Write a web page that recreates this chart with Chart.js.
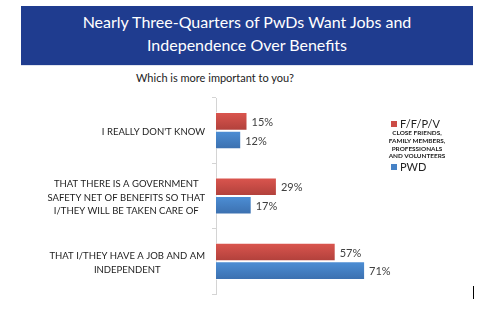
<!DOCTYPE html>
<html>
<head>
<meta charset="utf-8">
<script src="https://cdn.jsdelivr.net/npm/chart.js@4/dist/chart.umd.min.js"></script>
<style>
  body { margin: 0; background: #fff; font-family: Lato, "Open Sans", sans-serif; }
  #page { position: relative; width: 498px; height: 324px; overflow: hidden; }
  #header {
    position: absolute; left: 21px; top: 6px; width: 452px; height: 60px;
    background: #1f3c8f; color: #fff; text-align: center;
    font-size: 16px; line-height: 23px; padding-top: 4px; box-sizing: border-box;
    border-bottom: 1px solid #dfe3ee;
  }
  #question { position: absolute; left: 0; width: 430px; top: 71px; text-align: center; font-size: 11px; color: #222; }
  #chartBox { position: absolute; left: 0; top: 90px; width: 498px; height: 214px; }
  #legend { position: absolute; left: 391px; top: 117px; width: 60px; color: #222; }
  .item { display: flex; align-items: center; font-size: 11px; height: 13px; }
  .swatch { width: 6px; height: 6px; margin-right: 3px; }
  .note { font-size: 6.4px; font-weight: bold; text-align: center; line-height: 7.8px; width: 60px; margin: -1px 0 0 -4px; white-space: pre; }
  #caret { position: absolute; left: 473px; top: 286px; width: 1px; height: 13px; background: #000; }
</style>
</head>
<body>
<div id="page">
  <div id="header">Nearly Three-Quarters of PwDs Want Jobs and<br>Independence Over Benefits</div>
  <div id="question">Which is more important to you?</div>
  <div id="chartBox"><canvas id="answers"></canvas></div>
  <div id="legend"></div>
  <div id="caret"></div>
</div>
<script>
const categories = [
  ["I REALLY DON'T KNOW"],
  ["THAT THERE IS A GOVERNMENT", "SAFETY NET OF BENEFITS SO THAT", "I/THEY WILL BE TAKEN CARE OF"],
  ["THAT I/THEY HAVE A JOB AND AM", "INDEPENDENT"]
];
const seriesNames = ['F/F/P/V', 'PWD'];
const seriesNotes = ['CLOSE FRIENDS,\nFAMILY MEMBERS,\nPROFESSIONALS\nAND VOLUNTEERS', ''];
const ffpvValues = [15, 29, 57];
const pwdValues = [12, 17, 71];

const topColors = ['#dc564f', '#4d8fd6'];
const bottomColors = ['#b0403b', '#3b6fae'];
const flatColors = ['#cc4c46', '#4682c6'];

// vertical shading per bar, worked out from the category scale
function barFill(ctx) {
  const chart = ctx.chart;
  const y = chart.scales && chart.scales.y;
  if (!chart.chartArea || !y || ctx.dataIndex === undefined) return flatColors[ctx.datasetIndex];
  const mid = y.getPixelForValue(ctx.dataIndex);
  const h = y.getPixelForTick(1) - y.getPixelForTick(0);
  const bar = h * 0.57 / 2;
  const top = ctx.datasetIndex === 0 ? mid - bar : mid;
  const g = chart.ctx.createLinearGradient(0, top, 0, top + bar);
  g.addColorStop(0, topColors[ctx.datasetIndex]);
  g.addColorStop(1, bottomColors[ctx.datasetIndex]);
  return g;
}

const valueLabels = {
  id: 'valueLabels',
  afterDatasetsDraw(chart) {
    const c = chart.ctx;
    c.save();
    c.font = '11px Lato';
    c.fillStyle = '#404040';
    c.textBaseline = 'middle';
    chart.data.datasets.forEach((ds, i) => {
      chart.getDatasetMeta(i).data.forEach((bar, j) => {
        c.fillText(ds.data[j] + '%', bar.x + 4, bar.y + 1);
      });
    });
    c.restore();
  }
};

// category names: each block sits against the axis, its lines centred on each other
const categoryLabels = {
  id: 'categoryLabels',
  afterDraw(chart) {
    const c = chart.ctx;
    const y = chart.scales.y;
    const right = y.right - 11;
    const lineH = 13.3;
    c.save();
    c.font = '9.5px Lato';
    c.fillStyle = '#1c1c1c';
    c.textAlign = 'center';
    c.textBaseline = 'middle';
    chart.data.labels.forEach((lines, i) => {
      const widest = Math.max(...lines.map(l => c.measureText(l).width));
      const cx = right - widest / 2;
      const first = y.getPixelForTick(i) + 1.5 - (lines.length - 1) * lineH / 2;
      lines.forEach((l, k) => c.fillText(l, cx, first + k * lineH));
    });
    c.restore();
  }
};

const chart = new Chart(document.getElementById('answers'), {
  type: 'bar',
  data: {
    labels: categories,
    datasets: [
      { label: seriesNames[0], data: ffpvValues, backgroundColor: barFill, borderColor: 'rgba(255,255,255,0.6)', borderWidth: 1 },
      { label: seriesNames[1], data: pwdValues, backgroundColor: barFill, borderColor: 'rgba(255,255,255,0.6)', borderWidth: 1 }
    ]
  },
  options: {
    indexAxis: 'y',
    responsive: true,
    maintainAspectRatio: false,
    animation: false,
    layout: { padding: { top: 8, bottom: 10, right: 114, left: 0 } },
    categoryPercentage: 0.57,
    barPercentage: 1,
    plugins: { legend: { display: false }, tooltip: { enabled: false } },
    scales: {
      x: { display: false, min: 0, max: 80 },
      y: {
        afterFit(scale) { scale.width = 216; },
        border: { color: '#d4d4d4' },
        grid: { offset: true, drawOnChartArea: false, tickLength: 4, color: '#d4d4d4' },
        ticks: { display: false }
      }
    }
  },
  plugins: [valueLabels, categoryLabels]
});

// legend built from the same series names and colours
const legend = document.getElementById('legend');
seriesNames.forEach((name, i) => {
  const item = document.createElement('div');
  item.className = 'item';
  item.innerHTML = '<span class="swatch" style="background:' + flatColors[i] + '"></span>' + name;
  legend.appendChild(item);
  if (seriesNotes[i]) {
    const note = document.createElement('div');
    note.className = 'note';
    note.textContent = seriesNotes[i];
    legend.appendChild(note);
  }
});
</script>
</body>
</html>
